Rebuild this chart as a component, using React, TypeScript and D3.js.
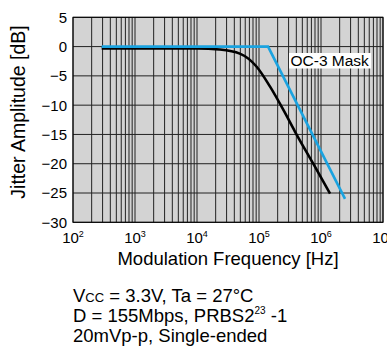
import React from "react";
import * as d3 from "d3";

const jitterFreq = [290, 1000, 10000, 23000, 49000, 91000, 150000, 250000, 380000, 750000, 1400000];
const jitterDb = [-0.3, -0.3, -0.3, -0.5, -1.2, -3.4, -6.8, -10.9, -14.5, -20.0, -25.1];
const maskFreq = [290, 140000, 2440000];
const maskDb = [0, 0, -26];
const xDecades = [2, 3, 4, 5, 6, 7];
const yTicks = [5, 0, -5, -10, -15, -20, -25, -30];

const W = 387;
const H = 348;
const L = 73, R = 383, T = 17.3, B = 222.3;
const FONT = "Liberation Sans, Arial, sans-serif";

export default function App() {
  const x = d3.scaleLog().domain([1e2, 1e7]).range([L, R]);
  const y = d3.scaleLinear().domain([-30, 5]).range([B, T]);

  const minor: number[] = [];
  for (let e = 2; e < 7; e++) {
    for (let m = 1; m <= 9; m++) minor.push(m * Math.pow(10, e));
  }
  minor.push(1e7);

  const line = d3
    .line<[number, number]>()
    .x((d) => x(d[0]))
    .y((d) => y(d[1]));
  const curve = d3
    .line<[number, number]>()
    .x((d) => x(d[0]))
    .y((d) => y(d[1]))
    .curve(d3.curveMonotoneX);

  const jitter = jitterFreq.map((f, i) => [f, jitterDb[i]] as [number, number]);
  const mask = maskFreq.map((f, i) => [f, maskDb[i]] as [number, number]);

  const gridColor = "#222";

  return (
    <svg
      width={W}
      height={H}
      style={{ position: "absolute", left: 0, top: 0, background: "#fff" }}
      fontFamily={FONT}
    >
      <rect x={L} y={T} width={R - L} height={B - T} fill="#d3d3d3" />
      {minor.map((f, i) => (
        <line key={"v" + i} x1={x(f)} x2={x(f)} y1={T} y2={B} stroke={gridColor} strokeWidth={1} />
      ))}
      {yTicks.map((v) => (
        <line key={"h" + v} x1={L} x2={R} y1={y(v)} y2={y(v)} stroke={gridColor} strokeWidth={1} />
      ))}
      <rect x={L} y={T} width={R - L} height={B - T} fill="none" stroke="#000" strokeWidth={1} />

      <path d={curve(jitter) || ""} fill="none" stroke="#000" strokeWidth={2.6} />
      <path d={line(mask) || ""} fill="none" stroke="#1aa3e0" strokeWidth={2.6} />

      <rect x={289} y={53} width={82} height={15.5} fill="#fff" />
      <text x={290.5} y={66} fontSize={15.5} fill="#000">OC-3 Mask</text>

      {yTicks.map((v) => (
        <text key={"yt" + v} x={67} y={y(v)} dy="0.36em" textAnchor="end" fontSize={15} fill="#000">
          {v < 0 ? "\u2212" + Math.abs(v) : String(v)}
        </text>
      ))}
      {xDecades.map((e) => (
        <text key={"xt" + e} x={x(Math.pow(10, e))} y={243} textAnchor="middle" fontSize={15} fill="#000">
          10
          <tspan dy={-6} fontSize={9}>{e}</tspan>
        </text>
      ))}

      <text x={(L + R) / 2} y={265} textAnchor="middle" fontSize={18.5} fill="#000">
        Modulation Frequency [Hz]
      </text>
      <text
        transform={`translate(25, 112) rotate(-90)`}
        textAnchor="middle"
        fontSize={19.5}
        fill="#000"
      >
        Jitter Amplitude [dB]
      </text>

      <text x={73} y={302} fontSize={18.5} fill="#000">
        V<tspan fontSize={13}>CC</tspan> = 3.3V, Ta = 27°C
      </text>
      <text x={73} y={322} fontSize={18.5} fill="#000">
        D = 155Mbps, PRBS2<tspan dy={-8} fontSize={10}>23</tspan>
        <tspan dy={8}> -1</tspan>
      </text>
      <text x={73} y={342} fontSize={18.5} fill="#000">
        20mVp-p, Single-ended
      </text>
    </svg>
  );
}
